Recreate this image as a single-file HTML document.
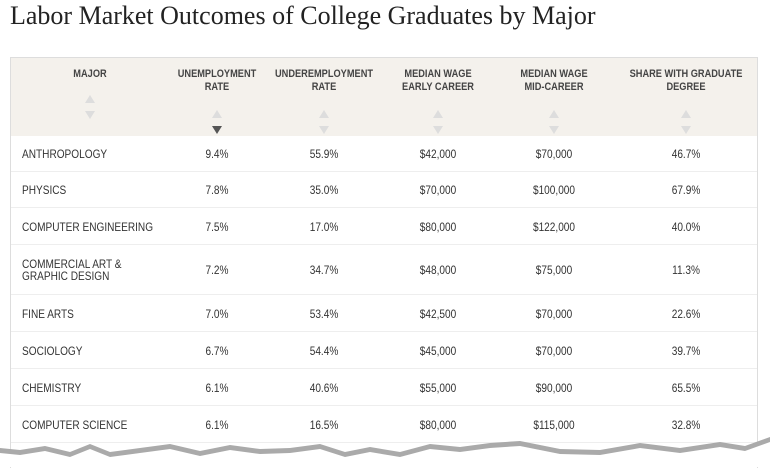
<!DOCTYPE html>
<html><head><style>
body{margin:0;width:770px;height:467px;background:#fff;overflow:hidden;position:relative;font-family:"Liberation Sans",sans-serif;}
h1{position:absolute;left:10px;top:1px;margin:0;font-family:"Liberation Serif",serif;font-weight:normal;font-size:26px;color:#222;white-space:nowrap;}
.tbl{position:absolute;left:10px;top:57px;width:746px;height:410px;border:1px solid #ddd;border-bottom:none;}
.hdr{position:absolute;left:0;top:0;width:746px;height:78px;background:#f4f1ec;}
.h{position:absolute;top:10px;text-align:center;font-size:11px;color:#444;font-weight:bold;line-height:13px;transform:translateX(-50%) scaleX(0.84);white-space:nowrap;}
.arr{position:absolute;width:0;height:0;border-left:5px solid transparent;border-right:5px solid transparent;transform:translateX(-50%);}
.up{border-bottom:8px solid #ddd;}
.dn{border-top:8px solid #ddd;}
.dk{border-top-color:#555;}
.row{position:absolute;left:0;width:746px;border-bottom:1px solid #eee;}
.c{position:absolute;font-size:12px;color:#333;transform:translate(-50%,-50%) scaleX(0.84);white-space:nowrap;}
.m{position:absolute;left:11px;font-size:12px;color:#333;transform:translateY(-50%) scaleX(0.84);transform-origin:0 50%;line-height:12px;white-space:nowrap;}
</style></head><body>
<h1>Labor Market Outcomes of College Graduates by Major</h1>
<div class="tbl">
<div class="hdr">
<div class="h" style="left:79px">MAJOR</div>
<div class="h" style="left:206px">UNEMPLOYMENT<br>RATE</div>
<div class="h" style="left:313px">UNDEREMPLOYMENT<br>RATE</div>
<div class="h" style="left:427px">MEDIAN WAGE<br>EARLY CAREER</div>
<div class="h" style="left:543px">MEDIAN WAGE<br>MID-CAREER</div>
<div class="h" style="left:675px">SHARE WITH GRADUATE<br>DEGREE</div>
<div class="arr up" style="left:79px;top:37px"></div><div class="arr dn" style="left:79px;top:53px"></div>
<div class="arr up" style="left:206px;top:52px"></div><div class="arr dn dk" style="left:206px;top:68px"></div>
<div class="arr up" style="left:313px;top:52px"></div><div class="arr dn" style="left:313px;top:68px"></div>
<div class="arr up" style="left:427px;top:52px"></div><div class="arr dn" style="left:427px;top:68px"></div>
<div class="arr up" style="left:543px;top:52px"></div><div class="arr dn" style="left:543px;top:68px"></div>
<div class="arr up" style="left:675px;top:52px"></div><div class="arr dn" style="left:675px;top:68px"></div>
</div>
</div>
<div id="rows"></div>
<script>
var d=[["ANTHROPOLOGY","9.4%","55.9%","$42,000","$70,000","46.7%",135,172],
["PHYSICS","7.8%","35.0%","$70,000","$100,000","67.9%",172,208],
["COMPUTER ENGINEERING","7.5%","17.0%","$80,000","$122,000","40.0%",208,245],
["COMMERCIAL ART &amp;<br>GRAPHIC DESIGN","7.2%","34.7%","$48,000","$75,000","11.3%",245,295],
["FINE ARTS","7.0%","53.4%","$42,500","$70,000","22.6%",295,332],
["SOCIOLOGY","6.7%","54.4%","$45,000","$70,000","39.7%",332,369],
["CHEMISTRY","6.1%","40.6%","$55,000","$90,000","65.5%",369,406],
["COMPUTER SCIENCE","6.1%","16.5%","$80,000","$115,000","32.8%",406,443]];
var xs=[217,324,438,554,686],h="";
d.forEach(function(r){var y=(r[6]+r[7])/2;
h+='<div class="row" style="left:11px;top:'+r[6]+'px;height:'+(r[7]-r[6]-1)+'px"></div>';
h+='<div class="m" style="left:22px;top:'+y+'px">'+r[0]+'</div>';
for(var i=0;i<5;i++)h+='<div class="c" style="left:'+xs[i]+'px;top:'+y+'px">'+r[i+1]+'</div>';});
document.getElementById("rows").innerHTML=h;
</script>
<svg style="position:absolute;left:0;top:0" width="770" height="467">
<polygon points="0,448 20,450 45,446 70,452 90,444 110,452 140,448 170,444 200,451 230,445 260,449 290,448 320,444 345,452 370,447 400,452 430,444 460,447 490,443 520,441 560,449 600,450 640,443 680,448 720,442 745,446 770,437 770,467 0,467" fill="#aaa"/>
<polygon points="0,453 20,455 45,451 70,457 90,449 110,457 140,453 170,449 200,456 230,450 260,454 290,453 320,449 345,457 370,452 400,457 430,449 460,452 490,448 520,446 560,454 600,455 640,448 680,453 720,447 745,451 770,442 770,467 0,467" fill="#fff"/>
</svg>
</body></html>
